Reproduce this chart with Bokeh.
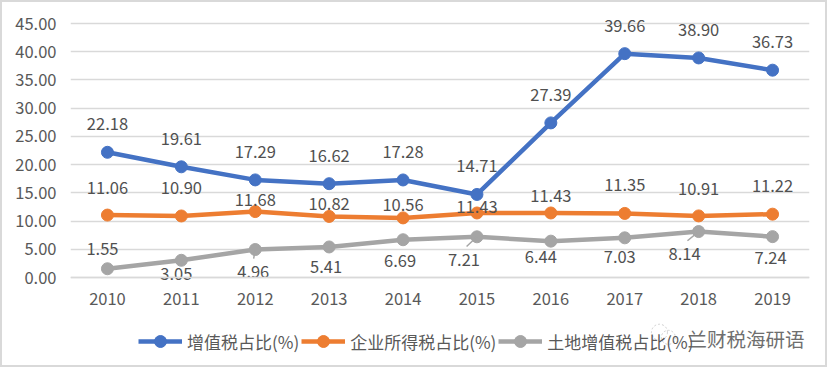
from bokeh.plotting import figure
from bokeh.models import (ColumnDataSource, FactorRange, Range1d, FixedTicker, NumeralTickFormatter,
                          Legend, LegendItem, Label)
from bokeh.core.properties import value
from bokeh.embed import file_html
from bokeh.resources import INLINE

years = ["2010","2011","2012","2013","2014","2015","2016","2017","2018","2019"]
vat = [22.18,19.61,17.29,16.62,17.28,14.71,27.39,39.66,38.90,36.73]
cit = [11.06,10.90,11.68,10.82,10.56,11.43,11.43,11.35,10.91,11.22]
lvt = [1.55,3.05,4.96,5.41,6.69,7.21,6.44,7.03,8.14,7.24]
yticks = [0,5,10,15,20,25,30,35,40,45]
names = ["增值税占比(%)","企业所得税占比(%)","土地增值税占比(%)"]
colors = ["#4472C4","#ED7D31","#A5A5A5"]

vat_dx = [0]*10
vat_dy = [-28]*10
cit_dx = [0]*10
cit_dy = [-27,-28,-12,-12,-13,-5.5,-16.5,-28,-27,-28.5]
lvt_dx = [-5,-5,-2,-3,-3,-13,-10,-5,-14,-2]
lvt_dy = [-20,14,22,20.5,21,23,16,19,22,21]

FONT = "Noto Sans CJK SC"
SCALE = 254/45  # px per unit
# The frame spans the canvas height so labels and legend are not clipped; the range is widened to match.
p = figure(width=827, height=367, output_backend="svg", toolbar_location=None,
           x_range=FactorRange(factors=years, range_padding=0),
           y_range=Range1d(-92/SCALE, 275/SCALE), min_border_left=68, min_border_right=20,
           min_border_top=0, min_border_bottom=0, outline_line_color=None)
p.styles = {"border": "2px solid #D9D9D9"}
p.xgrid.visible = False
p.ygrid.grid_line_color = "#D9D9D9"
p.ygrid.grid_line_width = 1.5
p.yaxis.ticker = FixedTicker(ticks=yticks)
p.yaxis.formatter = NumeralTickFormatter(format="0.00")
for ax in (p.xaxis[0], p.yaxis[0]):
    ax.major_tick_line_color = None
    ax.minor_tick_line_color = None
    ax.major_label_text_font = FONT
    ax.major_label_text_font_size = "16.5px"
    ax.major_label_text_color = "#595959"
p.yaxis.axis_line_color = None
p.yaxis.major_label_standoff = 8
p.xaxis.fixed_location = 0
p.xaxis.axis_line_color = "#D9D9D9"
p.xaxis.axis_line_width = 1.5
p.xaxis.major_label_standoff = 9

renderers = []
for ys, c, dx, dy in ((vat,colors[0],vat_dx,vat_dy),(cit,colors[1],cit_dx,cit_dy),(lvt,colors[2],lvt_dx,lvt_dy)):
    src = ColumnDataSource(dict(x=years, y=ys, t=[f"{v:.2f}" for v in ys], dx=dx, dy=dy))
    l = p.line("x","y",source=src,line_color=c,line_width=4.5)
    m = p.scatter("x","y",source=src,size=12,fill_color=c,line_color=c)
    renderers.append((l,m,src))

# leader lines of the moved labels: from the point towards its label
for i in (2,5,8):
    dx, dy = lvt_dx[i], lvt_dy[i]
    p.segment(x0=[years[i]], y0=[lvt[i]], x1=[(years[i], (dx*0.8)/73.9)], y1=[lvt[i]-(dy*0.42)/SCALE],
              line_color="#A5A5A5", line_width=1.5)

for l,m,src in renderers:
    p.text("x","y",text="t",source=src,x_offset="dx",y_offset="dy",text_align="center",text_baseline="middle",
           text_font=value(FONT),text_font_size="16.5px",text_color="#505050")

legend = Legend(items=[LegendItem(label=n,renderers=[r[0],r[1]]) for n,r in zip(names,renderers)],
                orientation="horizontal", border_line_color=None, background_fill_alpha=0,
                glyph_width=44, glyph_height=30, label_standoff=5, spacing=2, margin=0, padding=0,
                label_text_font=FONT, label_text_font_size="17px", label_text_color="#595959",
                location=(68,13))
p.add_layout(legend)

# faint watermark: two thin circles and the account name
p.scatter(x=[("2018",-0.53),("2018",-0.41)], y=[-9.7,-10.6], size=[16,14], fill_color=None,
          line_color="#CFCFCF", line_width=1, line_dash="2 2")
wm = Label(x=617,y=31,x_units="screen",y_units="screen",text="兰财税海研语",text_font=FONT,
           text_font_size="19.5px",text_color="#6e6e6e",text_baseline="middle")
p.add_layout(wm)

open("out.html","w").write(file_html(p,INLINE))
